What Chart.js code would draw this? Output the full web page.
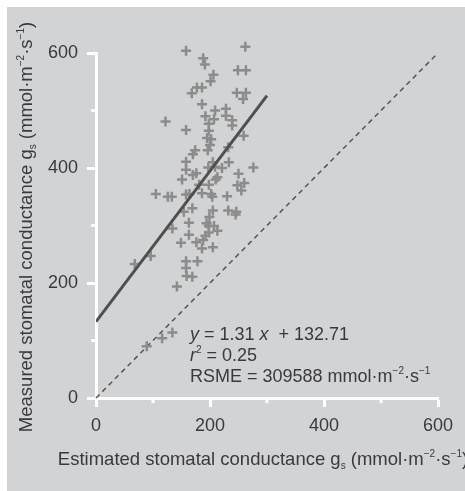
<!DOCTYPE html>
<html>
<head>
<meta charset="utf-8">
<script src="https://cdn.jsdelivr.net/npm/chart.js@4.4.1/dist/chart.umd.min.js"></script>
<style>
  html, body { margin: 0; padding: 0; background: #fff; }
  #wrap { position: absolute; left: 7px; top: 7px; width: 458px; height: 484px; background: #d2d3d5; }
</style>
</head>
<body>
<div id="wrap"><canvas id="chart" width="458" height="484"></canvas></div>
<script>
var estimatedGs = [158, 262, 188, 191, 249, 263, 206, 201, 177, 186, 168, 247, 263, 258, 186, 209, 228, 228, 192, 207,
  239, 239, 198, 122, 158, 198, 259, 195, 202, 200, 232, 174, 170, 196, 158, 233, 205, 276, 221, 209,
  197, 158, 213, 210, 170, 176, 250, 151, 181, 198, 248, 260, 255, 186, 202, 204, 158, 164, 105, 126,
  133, 230, 169, 205, 232, 246, 245, 154, 199, 134, 163, 194, 198, 207, 213, 198, 192, 163, 149, 176,
  188, 186, 205, 96, 158, 178, 158, 159, 169, 142, 68, 89, 116, 134];
var measuredGs = [604, 611, 591, 580, 570, 570, 562, 551, 540, 540, 530, 531, 531, 520, 511, 500, 503, 491, 490, 485,
  483, 474, 477, 481, 466, 465, 456, 452, 450, 440, 436, 431, 424, 431, 411, 410, 410, 401, 400, 402,
  401, 397, 384, 380, 388, 391, 390, 380, 371, 371, 370, 374, 361, 356, 355, 350, 354, 355, 355, 350,
  350, 351, 330, 326, 326, 324, 319, 324, 315, 295, 305, 304, 299, 299, 291, 288, 282, 284, 270, 271,
  275, 260, 262, 247, 238, 238, 226, 212, 211, 194, 233, 90, 104, 114];

var fitSlope = 1.31;
var fitIntercept = 132.71;
var fitRange = [0, 300];
var identityRange = [0, 600];
var majorTicks = [0, 200, 400, 600];
var minorTicks = [100, 300, 500];

var textFont = '"Liberation Sans", Arial, sans-serif';
var textColor = '#3a3a3a';

// rich text: parts with optional italic / sup / sub
function partFont(p, size) {
  var s = (p.sup || p.sub) ? Math.round(size * 0.55) : size;
  return (p.i ? 'italic ' : '') + s + 'px ' + textFont;
}

function richWidth(ctx, parts, size) {
  return parts.reduce(function (w, p) {
    ctx.font = partFont(p, size);
    return w + ctx.measureText(p.t).width;
  }, 0);
}

function drawRich(ctx, parts, x, y, size) {
  ctx.textBaseline = 'alphabetic';
  ctx.textAlign = 'left';
  parts.forEach(function (p) {
    ctx.font = partFont(p, size);
    var dy = p.sup ? -size * 0.42 : (p.sub ? size * 0.22 : 0);
    ctx.fillText(p.t, x, y + dy);
    x += ctx.measureText(p.t).width;
  });
}

var unitParts = [{ t: ' (mmol\u00b7m' }, { t: '\u22122', sup: true }, { t: '\u00b7s' }, { t: '\u22121', sup: true }, { t: ')' }];
var xTitle = [{ t: 'Estimated stomatal conductance g' }, { t: 's', sub: true }].concat(unitParts);
var yTitle = [{ t: 'Measured stomatal conductance g' }, { t: 's', sub: true }].concat(unitParts);
var noteLines = [
  [{ t: 'y', i: true }, { t: ' = 1.31 ' }, { t: 'x', i: true }, { t: '  + 132.71' }],
  [{ t: 'r', i: true }, { t: '2', sup: true }, { t: ' = 0.25' }],
  [{ t: 'RSME = 309588 mmol\u00b7m' }, { t: '\u22122', sup: true }, { t: '\u00b7s' }, { t: '\u22121', sup: true }]
];

var decorPlugin = {
  id: 'decor',
  afterDraw: function (chart) {
    var ctx = chart.ctx;
    var xs = chart.scales.x;
    var ys = chart.scales.y;
    var area = chart.chartArea;

    ctx.save();
    ctx.strokeStyle = '#fff';
    ctx.lineWidth = 3;
    minorTicks.forEach(function (v) {
      var px = xs.getPixelForValue(v);
      var py = ys.getPixelForValue(v);
      ctx.beginPath();
      ctx.moveTo(px, area.bottom);
      ctx.lineTo(px, area.bottom + 5);
      ctx.moveTo(area.left, py);
      ctx.lineTo(area.left - 5, py);
      ctx.stroke();
    });

    ctx.fillStyle = textColor;
    var w = richWidth(ctx, xTitle, 18.5);
    drawRich(ctx, xTitle, 256 - w / 2, 458, 18.5);

    ctx.save();
    ctx.translate(25, 220);
    ctx.rotate(-Math.PI / 2);
    w = richWidth(ctx, yTitle, 18.5);
    drawRich(ctx, yTitle, -w / 2, 0, 18.5);
    ctx.restore();

    noteLines.forEach(function (line, i) {
      drawRich(ctx, line, 183, 333 + i * 21, 18);
    });
    ctx.restore();
  }
};

function axisOptions() {
  return {
    type: 'linear',
    min: 0,
    max: 600,
    border: { display: true, color: '#fff', width: 3 },
    grid: {
      drawOnChartArea: false,
      drawTicks: true,
      tickLength: 9,
      tickWidth: 3,
      tickColor: function (c) {
        return majorTicks.indexOf(c.tick.value) >= 0 ? '#fff' : 'rgba(0,0,0,0)';
      }
    },
    ticks: {
      stepSize: 100,
      color: textColor,
      font: { family: textFont, size: 18 },
      callback: function (v) {
        return majorTicks.indexOf(v) >= 0 ? String(v) : '';
      }
    }
  };
}

var xAxis = axisOptions();
xAxis.ticks.padding = 8;
xAxis.ticks.maxRotation = 0;
xAxis.afterFit = function (scale) { scale.height = 93; };

var yAxis = axisOptions();
yAxis.ticks.padding = 9;
yAxis.afterFit = function (scale) { scale.width = 89; };

new Chart(document.getElementById('chart'), {
  type: 'scatter',
  data: {
    datasets: [
      {
        label: 'Fit',
        type: 'line',
        data: fitRange.map(function (x) { return { x: x, y: fitSlope * x + fitIntercept }; }),
        borderColor: '#4f4f4f',
        borderWidth: 3,
        pointRadius: 0,
        fill: false
      },
      {
        label: 'Observed',
        data: estimatedGs.map(function (x, i) { return { x: x, y: measuredGs[i] }; }),
        pointStyle: 'cross',
        pointRadius: 5,
        borderWidth: 2.5,
        borderColor: '#8c8c8c',
        backgroundColor: '#8c8c8c',
        clip: false
      },
      {
        label: '1:1',
        type: 'line',
        data: identityRange.map(function (v) { return { x: v, y: v }; }),
        borderColor: '#555',
        borderWidth: 1.5,
        borderDash: [5, 4],
        pointRadius: 0,
        fill: false,
        clip: false
      }
    ]
  },
  options: {
    responsive: false,
    animation: false,
    devicePixelRatio: 1,
    layout: { padding: { left: 0, right: 27, top: 46, bottom: 0 } },
    plugins: {
      legend: { display: false },
      tooltip: { enabled: false }
    },
    scales: { x: xAxis, y: yAxis }
  },
  plugins: [decorPlugin]
});
</script>
</body>
</html>
